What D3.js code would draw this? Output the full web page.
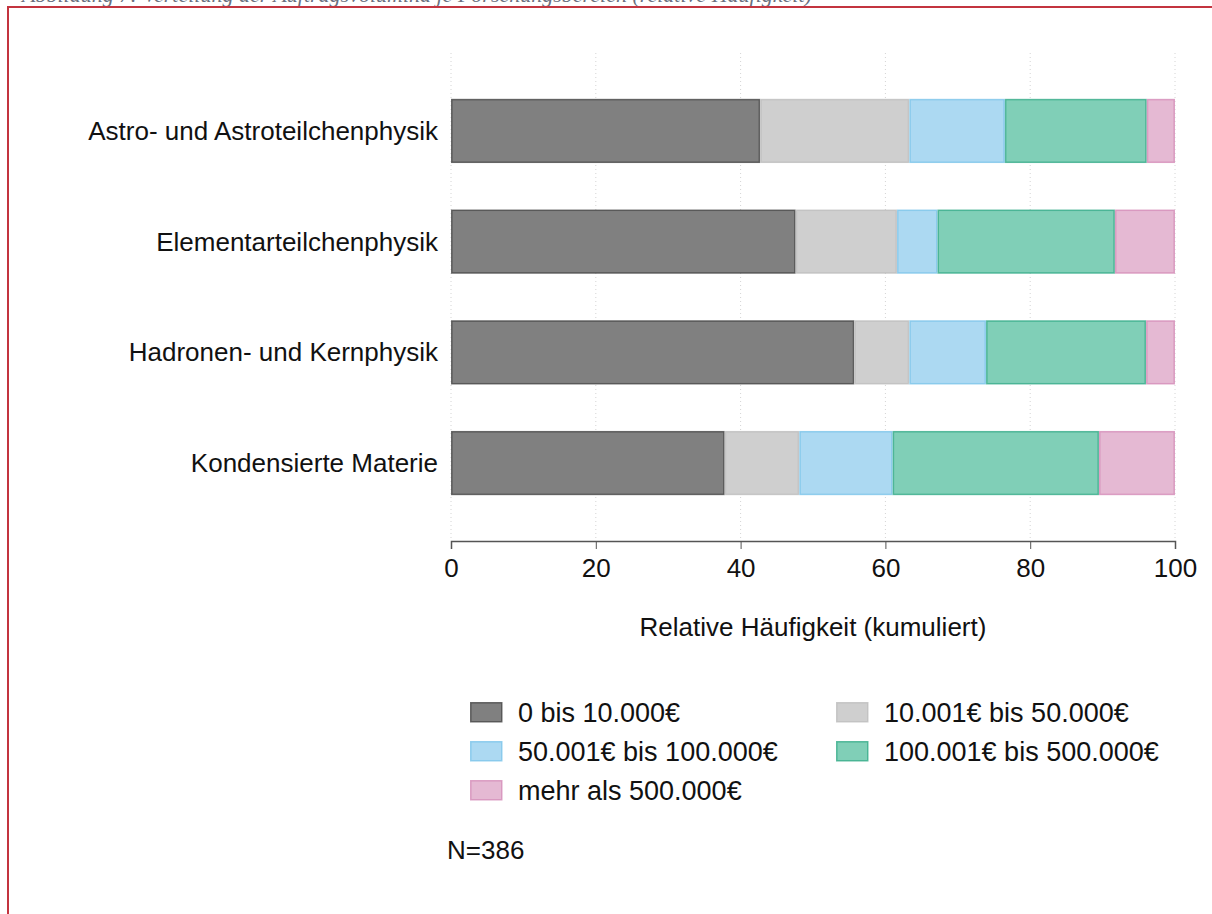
<!DOCTYPE html>
<html>
<head>
<meta charset="utf-8">
<script src="https://cdn.jsdelivr.net/npm/d3@7"></script>
<style>
  body { margin: 0; background: #fff; }
  svg { display: block; font-family: "Liberation Sans", Arial, sans-serif; }
</style>
</head>
<body>
<script>

// categories (top to bottom)
const categories = [
  'Astro- und Astroteilchenphysik',
  'Elementarteilchenphysik',
  'Hadronen- und Kernphysik',
  'Kondensierte Materie'
];

// volume classes (stack order, left to right)
const classes = [
  '0 bis 10.000€',
  '10.001€ bis 50.000€',
  '50.001€ bis 100.000€',
  '100.001€ bis 500.000€',
  'mehr als 500.000€'
];

// relative share (%) of each class per category
const share0to10k    = [42.7, 47.6, 55.7, 37.8];
const share10to50k   = [20.6, 14.0,  7.6, 10.3];
const share50to100k  = [13.2,  5.6, 10.6, 12.9];
const share100to500k = [19.6, 24.5, 22.1, 28.5];
const shareOver500k  = [ 3.9,  8.3,  4.0, 10.5];

const xTicks = [0, 20, 40, 60, 80, 100];
const xTitle = 'Relative Häufigkeit (kumuliert)';
const note = 'N=386';
const caption = 'Abbildung 7: Verteilung der Auftragsvolumina je Forschungsbereich (relative Häufigkeit)';

const fills   = ['#808080', '#cfcfcf', '#acd9f2', '#80cfb7', '#e5b9d3'];
const strokes = ['#464646', '#bdbdbd', '#7cc4ea', '#34ab88', '#d48cb8'];

const width = 1212, height = 914;
const margin = { top: 53, left: 451, right: 37, bottom: 373 };
const fontSize = '26px';

const svg = d3.select('body').append('svg')
  .attr('width', width)
  .attr('height', height);

// cut-off caption above the frame
svg.append('defs').append('clipPath').attr('id', 'capclip')
  .append('rect').attr('x', 0).attr('y', 0).attr('width', width).attr('height', 6);

svg.append('text')
  .attr('clip-path', 'url(#capclip)')
  .attr('x', 22)
  .attr('y', 1.5)
  .style('font-family', '"Liberation Serif", "DejaVu Serif", serif')
  .style('font-style', 'italic')
  .style('font-size', '22px')
  .style('fill', '#6a7080')
  .text(caption);

// red frame (runs off right and bottom edges)
svg.append('rect')
  .attr('x', 8).attr('y', 7)
  .attr('width', width + 20).attr('height', height + 20)
  .attr('fill', 'none')
  .attr('stroke', '#c3343f')
  .attr('stroke-width', 2);

const rows = categories.map((c, i) => ({
  category: c,
  [classes[0]]: share0to10k[i],
  [classes[1]]: share10to50k[i],
  [classes[2]]: share50to100k[i],
  [classes[3]]: share100to500k[i],
  [classes[4]]: shareOver500k[i]
}));

const stacked = d3.stack().keys(classes)(rows);

const x = d3.scaleLinear()
  .domain([0, 100])
  .range([margin.left, width - margin.right]);

const plotBottom = height - margin.bottom; // 541

const y = d3.scaleBand()
  .domain(categories)
  .range([margin.top, plotBottom])
  .paddingInner(0.42)
  .paddingOuter(0.414);

// dotted vertical grid
svg.append('g')
  .selectAll('line')
  .data(xTicks)
  .join('line')
  .attr('x1', d => x(d)).attr('x2', d => x(d))
  .attr('y1', margin.top).attr('y2', plotBottom)
  .attr('stroke', '#d4d4d4')
  .attr('stroke-width', 1)
  .attr('stroke-dasharray', '1,3');

// bars
svg.append('g')
  .selectAll('g')
  .data(stacked)
  .join('g')
  .each(function (layer, k) {
    d3.select(this).selectAll('rect')
      .data(layer)
      .join('rect')
      .attr('x', d => x(d[0]) + 0.75)
      .attr('y', d => y(d.data.category) + 0.75)
      .attr('width', d => x(d[1]) - x(d[0]) - 1.5)
      .attr('height', y.bandwidth() - 1.5)
      .attr('fill', fills[k])
      .attr('stroke', strokes[k])
      .attr('stroke-width', 1.5)
      .attr('stroke-opacity', 0.8);
  });

// y labels
svg.append('g')
  .selectAll('text')
  .data(categories)
  .join('text')
  .attr('x', 438)
  .attr('y', d => y(d) + y.bandwidth() / 2)
  .attr('dy', '0.35em')
  .attr('text-anchor', 'end')
  .style('font-size', fontSize)
  .style('fill', '#111')
  .text(d => d);

// x axis
const xAxis = d3.axisBottom(x)
  .tickValues(xTicks)
  .tickSize(8)
  .tickPadding(10)
  .tickFormat(d3.format('d'));

const gx = svg.append('g')
  .attr('class', 'x axis')
  .attr('transform', `translate(0,${plotBottom})`)
  .call(xAxis);

gx.select('.domain').attr('stroke', '#555').attr('stroke-width', 1.5);
gx.selectAll('.tick line').attr('stroke', '#555').attr('stroke-width', 1);
gx.selectAll('.tick text')
  .style('font-size', fontSize)
  .style('font-family', '"Liberation Sans", Arial, sans-serif')
  .attr('fill', '#111');

svg.append('text')
  .attr('x', (x(0) + x(100)) / 2)
  .attr('y', 636)
  .attr('text-anchor', 'middle')
  .style('font-size', fontSize)
  .style('fill', '#111')
  .text(xTitle);

// legend
const legend = svg.append('g');
const legendItems = legend.selectAll('g')
  .data(classes)
  .join('g')
  .attr('transform', (d, i) => `translate(${i % 2 === 0 ? 470 : 836},${702 + Math.floor(i / 2) * 39})`);

legendItems.append('rect')
  .attr('x', 0.75).attr('y', 0.75)
  .attr('width', 31).attr('height', 19)
  .attr('fill', (d, i) => fills[i])
  .attr('stroke', (d, i) => strokes[i])
  .attr('stroke-width', 1.5)
  .attr('stroke-opacity', 0.8);

legendItems.append('text')
  .attr('x', 48)
  .attr('y', 11)
  .attr('dy', '0.35em')
  .style('font-size', '27px')
  .style('fill', '#111')
  .text(d => d);

svg.append('text')
  .attr('x', 447)
  .attr('y', 859)
  .style('font-size', fontSize)
  .style('fill', '#111')
  .text(note);

</script>
</body>
</html>
